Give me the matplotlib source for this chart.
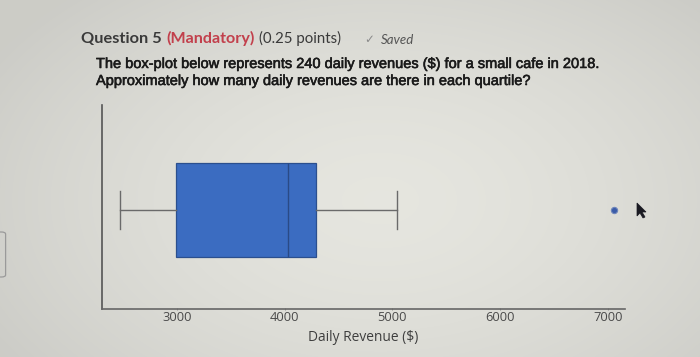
import numpy as np
import matplotlib
matplotlib.use("Agg")
import matplotlib.pyplot as plt
from matplotlib.patches import Polygon, FancyBboxPatch
import matplotlib.patheffects as pe

# Box-plot summary values (Daily Revenue, $)
whisker_low = 2470
q1 = 2990
median = 4030
q3 = 4290
whisker_high = 5040
outliers = [7060]
xticks = [3000, 4000, 5000, 6000, 7000]
xlabel = "Daily Revenue ($)"

title_parts = ["Question 5", "(Mandatory)", "(0.25 points)"]
saved_text = "Saved"
question_lines = [
    "The box-plot below represents 240 daily revenues ($) for a small cafe in 2018.",
    "Approximately how many daily revenues are there in each quartile?",
]

W, H = 700, 357
fig = plt.figure(figsize=(7.0, 3.57), dpi=100)

# background: photo-like vignette
yy, xx = np.mgrid[0:H, 0:W]
cx, cy = 380, 200
rr = np.sqrt(((xx - cx) / 450.0) ** 2 + ((yy - cy) / 280.0) ** 2)
base = np.array([0.90, 0.90, 0.875])
edge = np.array([0.80, 0.80, 0.78])
t = np.clip(rr, 0, 1)[..., None] ** 1.6
img = base * (1 - t) + edge * t
fig.figimage(img, 0, 0, origin="upper", zorder=-10)

def px(x, y):
    return x / W, 1 - y / H

# header texts (shared baseline)
ty = 1 - 43 / H
fig.text(81 / W, ty, title_parts[0], fontsize=11.8, fontweight="bold",
         color="#3a3a3a", family="Lato", va="baseline")
fig.text(166 / W, ty, title_parts[1], fontsize=11.6, fontweight="bold",
         color="#c2404c", family="Lato", va="baseline")
fig.text(259 / W, ty, title_parts[2], fontsize=10.8, color="#3a3a3a",
         family="Lato", va="baseline")
sx, sy = px(364, 40)
fig.text(sx, sy, "\u2713", fontsize=8.5, color="#8a8a8a", family="DejaVu Sans", va="center")
sx, sy = px(381, 40)
fig.text(sx, sy, saved_text, fontsize=9.5, color="#555555", style="italic",
         family="Lato", va="center")

for i, line in enumerate(question_lines):
    qx, qy = px(96, 64 + 17 * i)
    fig.text(qx, qy, line, fontsize=10.5, color="#1a1a1a", family="Liberation Sans",
             va="center",
             path_effects=[pe.withStroke(linewidth=0.4, foreground="#1a1a1a")])

# partial UI element at left edge
fig.patches.append(FancyBboxPatch((-0.02, 1 - 277 / H), 0.028, 45 / H,
                                  boxstyle="round,pad=0,rounding_size=0.006",
                                  transform=fig.transFigure, fill=False,
                                  edgecolor="#9a9a9a", lw=0.9))

# chart axes
left, right, top, bottom = 102, 625, 105, 309
ax = fig.add_axes([left / W, 1 - bottom / H, (right - left) / W, (bottom - top) / H])
ax.patch.set_alpha(0)
ax.set_xlim(2305, 7160)
ax.set_ylim(0, 1)

stats = [dict(med=median, q1=q1, q3=q3, whislo=whisker_low, whishi=whisker_high,
              fliers=outliers)]
bp = ax.bxp(stats, positions=[0.485], widths=0.46, vert=False, patch_artist=True,
            showfliers=True, capwidths=0.19,
            boxprops=dict(facecolor="#3b6cc1", edgecolor="#2b4f8e", linewidth=0.9),
            medianprops=dict(color="#2a4a86", linewidth=1.0),
            whiskerprops=dict(color="#6a6a6a", linewidth=1.0),
            capprops=dict(color="#6a6a6a", linewidth=1.0),
            flierprops=dict(marker="o", markersize=4.5, markerfacecolor="#3b5ca8",
                            markeredgecolor="#6f86bb", markeredgewidth=0.8))

for s in ["top", "right"]:
    ax.spines[s].set_visible(False)
ax.spines["left"].set_color("#555555")
ax.spines["bottom"].set_color("#666666")
ax.spines["left"].set_linewidth(1.2)
ax.spines["bottom"].set_linewidth(1.2)
ax.set_yticks([])
ax.set_xticks(xticks)
ax.set_xticklabels([str(v) for v in xticks])
ax.tick_params(axis="x", length=2, width=0.6, colors="#888888", labelcolor="#4a4a4a",
               labelsize=9.3, pad=0.3, direction="inout")
for lab in ax.get_xticklabels():
    lab.set_family("Open Sans")
ax.set_xlabel(xlabel, fontsize=9.9, color="#3e3e3e", family="Open Sans", labelpad=4.5)

# mouse cursor
cx0, cy0 = 637, 203
cur = [(0, 0), (0, 13), (3, 10), (6, 15), (8, 14), (5, 9), (9, 9)]
pts = [px(cx0 + a, cy0 + b) for a, b in cur]
fig.patches.append(Polygon(pts, closed=True, transform=fig.transFigure,
                           facecolor="#1a1a22", edgecolor="#1a1a22", lw=0.5))

fig.savefig("out.png", dpi=100)
